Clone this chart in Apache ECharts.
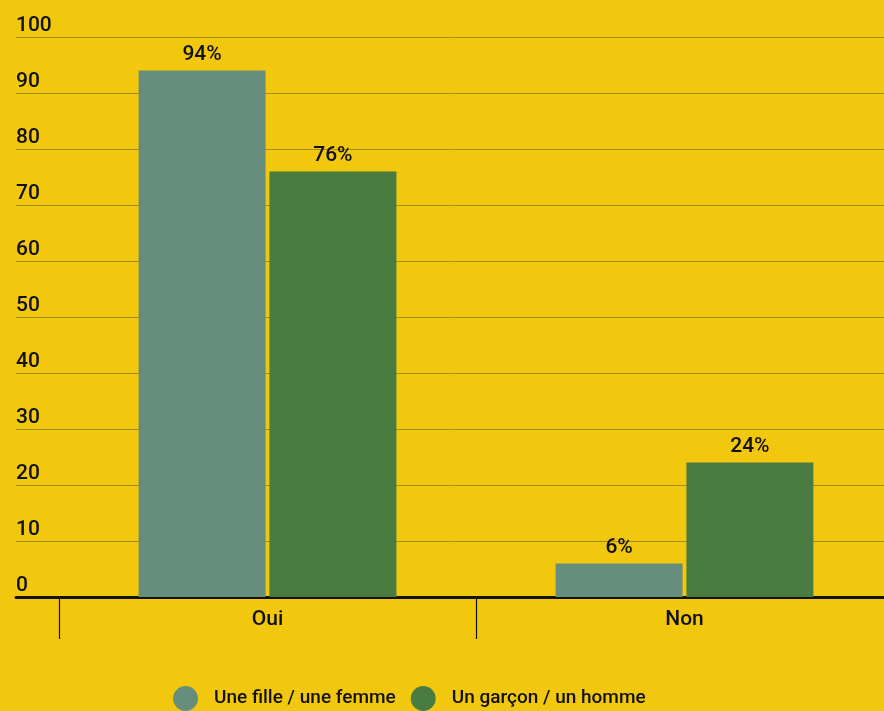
<!DOCTYPE html>
<html>
<head>
<meta charset="utf-8">
<script src="https://cdn.jsdelivr.net/npm/echarts@6/dist/echarts.min.js"></script>
<style>
html,body{margin:0;padding:0;background:#F2C80E;overflow:hidden;width:884px;height:711px;}
#c{width:893px;height:711px;}
</style>
</head>
<body>
<div id="c"></div>
<script>
const categories = ['Oui', 'Non'];
const seriesNames = ['Une fille / une femme', 'Un garçon / un homme'];
const femme = [94, 6];
const homme = [76, 24];
const yMin = 0, yMax = 100, yStep = 10;

const chart = echarts.init(document.getElementById('c'), null, {renderer: 'canvas'});
const font = 'Roboto, "Noto Sans", sans-serif';
const gTop = 37, gBottom = 711 - 597;

chart.setOption({
  backgroundColor: '#F2C80E',
  animation: false,
  textStyle: {fontFamily: font},
  grid: [
    {left: 16, right: 0, top: gTop, bottom: gBottom},
    {left: 59, right: 0, top: gTop, bottom: gBottom}
  ],
  legend: {
    left: 168, top: 681,
    icon: 'circle', itemWidth: 25, itemHeight: 25, itemGap: 15,
    textStyle: {fontFamily: font, fontSize: 19, fontWeight: 500, color: '#111', padding: [0, 0, 0, 11]},
    data: seriesNames
  },
  xAxis: [
    {gridIndex: 0, type: 'value', min: 0, max: 1, show: true,
     axisLine: {show: true, lineStyle: {color: '#111', width: 3}},
     axisTick: {show: false}, axisLabel: {show: false}, splitLine: {show: false}},
    {gridIndex: 1, type: 'category', data: categories,
     axisLine: {show: false},
     axisTick: {show: true, length: 42, lineStyle: {color: '#111', width: 1.2}},
     axisLabel: {margin: 12, fontFamily: font, fontSize: 21, fontWeight: 500, color: '#111'}}
  ],
  yAxis: [
    {gridIndex: 0, type: 'value', min: yMin, max: yMax, interval: yStep,
     axisLine: {show: false}, axisTick: {show: false},
     axisLabel: {inside: true, margin: 0, verticalAlign: 'bottom', padding: [0, 0, 1, 0],
       fontFamily: font, fontSize: 21, fontWeight: 500, color: '#111'},
     splitLine: {show: true, lineStyle: {color: '#A98A12', width: 1}}},
    {gridIndex: 1, type: 'value', min: yMin, max: yMax, interval: yStep, show: false,
     splitLine: {show: false}}
  ],
  series: [
    {name: seriesNames[0], type: 'bar', xAxisIndex: 1, yAxisIndex: 1, data: femme,
     barWidth: 127, barGap: '3%', itemStyle: {color: '#678D7C'},
     label: {show: true, position: 'top', distance: 5, formatter: '{c}%', fontFamily: font, fontSize: 21, fontWeight: 500, color: '#111'}},
    {name: seriesNames[1], type: 'bar', xAxisIndex: 1, yAxisIndex: 1, data: homme,
     barWidth: 127, barGap: '3%', itemStyle: {color: '#4A7B40'},
     label: {show: true, position: 'top', distance: 5, formatter: '{c}%', fontFamily: font, fontSize: 21, fontWeight: 500, color: '#111'}}
  ]
});
</script>
</body>
</html>
